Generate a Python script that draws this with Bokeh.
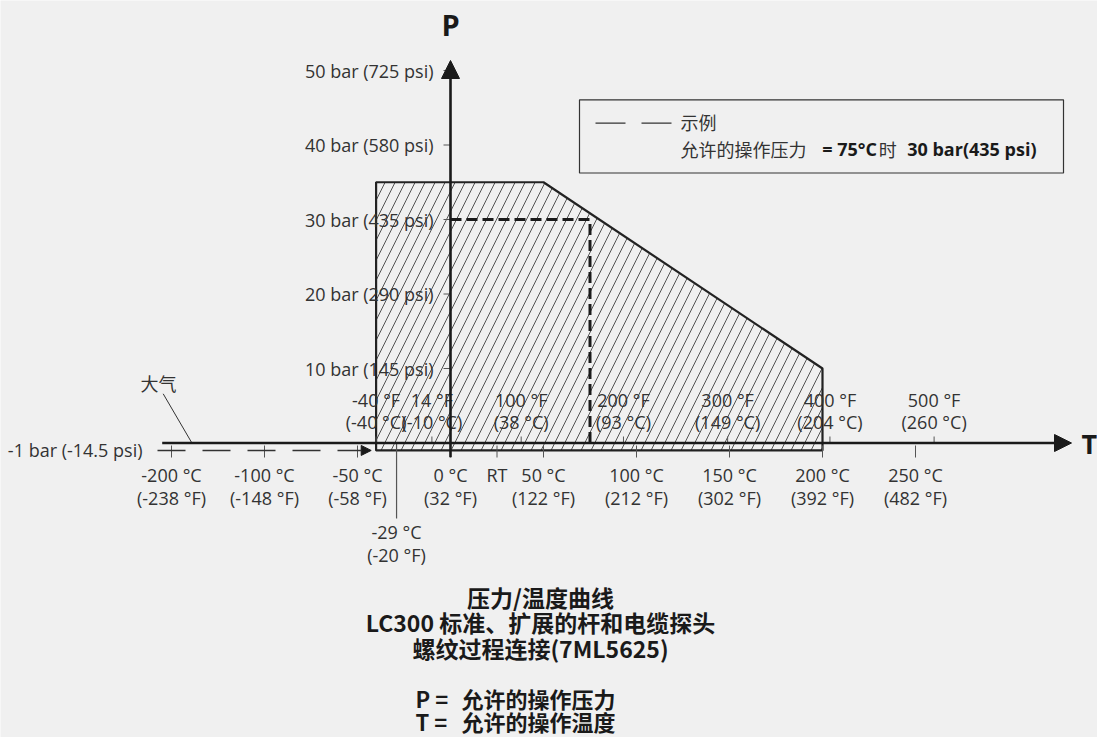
from bokeh.plotting import figure
from bokeh.models import Range1d, Arrow, NormalHead
from bokeh.core.properties import value
from bokeh.embed import file_html
from bokeh.resources import INLINE

# ---------------- data ----------------
envelope_t = [-40, -40, 50, 200, 200]      # permitted operating envelope, °C
envelope_p = [-1, 35, 35, 10, -1]          # bar
example_t = 75                             # example: 75 °C -> 30 bar
example_p = 30

p_ticks = [10, 20, 30, 40, 50]
p_tick_labels = ["10 bar (145 psi)", "20 bar (290 psi)", "30 bar (435 psi)",
                 "40 bar (580 psi)", "50 bar (725 psi)"]

c_ticks = [-200, -100, -50, 0, 50, 100, 150, 200, 250]
c_labels = ["-200 °C", "-100 °C", "-50 °C", "0 °C", "50 °C", "100 °C", "150 °C", "200 °C", "250 °C"]
c_labels_f = ["(-238 °F)", "(-148 °F)", "(-58 °F)", "(32 °F)", "(122 °F)", "(212 °F)",
              "(302 °F)", "(392 °F)", "(482 °F)"]

f_ticks = [-40, -10, 38, 93, 149, 204, 260]          # °C position of the °F ticks
f_labels = ["-40 °F", "14 °F", "100 °F", "200 °F", "300 °F", "400 °F", "500 °F"]
f_labels_c = ["(-40 °C)", "(-10 °C)", "(38 °C)", "(93 °C)", "(149 °C)", "(204 °C)", "(260 °C)"]

rt_t = 25
rt_label = "RT"
min_t = -29
min_t_labels = ["-29 °C", "(-20 °F)"]
atm_p = -1
atm_label = "-1 bar (-14.5 psi)"
atm_text = "大气"

legend_title = "示例"
legend_parts = ["允许的操作压力", "= 75°C", "时", "30 bar(435 psi)"]

title_lines = ["压力/温度曲线", "LC300 标准、扩展的杆和电缆探头", "螺纹过程连接(7ML5625)"]
def_keys = ["P =", "T ="]
def_values = ["允许的操作压力", "允许的操作温度"]


def tpos(t):
    """Axis position of a temperature (axis is broken/compressed below -100 °C)."""
    return t if t >= -100 else -100 + (t + 100) * 0.5


# ---------------- layout ----------------
W, H = 1097, 737
PX_PER_C = 1.86
PX_PER_BAR = 7.45
ORIGIN_X = 450.0     # px of 0 °C
ORIGIN_Y = 442.5     # px of 0 bar


def ix(px):
    return (px - ORIGIN_X) / PX_PER_C


def iy(py):
    return (ORIGIN_Y - py) / PX_PER_BAR


BG = "#f0f0f0"
INK = "#1a1a1a"
TXT = "#333333"
LAT = value("Open Sans")
CJK = value("Noto Sans CJK SC")

p = figure(width=W, height=H, output_backend="svg", toolbar_location=None,
           x_range=Range1d(-ORIGIN_X / PX_PER_C, (W - ORIGIN_X) / PX_PER_C),
           y_range=Range1d(-(H - ORIGIN_Y) / PX_PER_BAR, ORIGIN_Y / PX_PER_BAR),
           x_axis_location=None, y_axis_location=None, min_border=0,
           background_fill_color=BG, border_fill_color=BG, outline_line_color=None)
p.grid.grid_line_color = None

# hatched envelope
p.patch(envelope_t, envelope_p, fill_alpha=0, hatch_pattern="/", hatch_scale=20,
        hatch_weight=0.8, hatch_color="#2a2a2a", line_color="#222222", line_width=2.2)

# ticks
p.segment(x0=[ix(443)] * len(p_ticks), x1=[0] * len(p_ticks), y0=p_ticks, y1=p_ticks,
          line_color="#555555", line_width=1)
cpos = [tpos(t) for t in c_ticks] + [rt_t]
p.segment(x0=cpos, x1=cpos, y0=[iy(445)] * len(cpos), y1=[iy(457)] * len(cpos),
          line_color="#555555", line_width=1)
p.segment(x0=f_ticks, x1=f_ticks, y0=[0] * len(f_ticks), y1=[iy(436)] * len(f_ticks),
          line_color="#555555", line_width=1)

# -29 °C marker line
p.segment(x0=[min_t], x1=[min_t], y0=[iy(443)], y1=[iy(518)], line_color="#555555", line_width=1.2)

# atmosphere leader
p.segment(x0=[ix(162.7)], y0=[iy(393.3)], x1=[ix(191.3)], y1=[iy(442.3)],
          line_color=TXT, line_width=1)

# -1 bar dashed axis with arrow
p.add_layout(Arrow(x_start=ix(157), y_start=atm_p, x_end=ix(370.7), y_end=atm_p,
                   line_color=TXT, line_width=1.5, line_dash="28 17",
                   end=NormalHead(size=10, fill_color=INK, line_color=INK, line_width=1)))
# 0 bar T axis
p.add_layout(Arrow(x_start=ix(161.7), y_start=0, x_end=ix(1071), y_end=0,
                   line_color=INK, line_width=2.6,
                   end=NormalHead(size=17, fill_color=INK, line_color=INK, line_width=1)))
# P axis
p.add_layout(Arrow(x_start=0, y_start=iy(456.7), x_end=0, y_end=iy(60),
                   line_color=INK, line_width=2.6,
                   end=NormalHead(size=18, fill_color=INK, line_color=INK, line_width=1)))

# example dashed line
p.line([0, example_t, example_t], [example_p, example_p, 0], line_dash="11 5",
       line_width=3, line_color=INK)

# legend box
p.quad(left=[ix(579)], right=[ix(1063)], top=[iy(99.3)], bottom=[iy(172.5)],
       fill_alpha=0, line_color="#333333", line_width=1.2)
p.segment(x0=[ix(595), ix(641)], x1=[ix(625), ix(671)], y0=[iy(122.7)] * 2, y1=[iy(122.7)] * 2,
          line_color=TXT, line_width=1.3)

common = dict(text_font_size="18px", text_color=TXT, text_baseline="middle")

# P tick labels
p.text(x=[ix(433)] * len(p_ticks), y=p_ticks, text=p_tick_labels, text_align="right",
       text_font=LAT, **common)
p.text(x=[ix(142)], y=[atm_p], text=[atm_label], text_align="right", text_font=LAT, **common)

# °C labels
cx = [tpos(t) for t in c_ticks]
p.text(x=cx, y=[iy(474.5)] * len(cx), text=c_labels, text_align="center", text_font=LAT, **common)
p.text(x=cx, y=[iy(497.5)] * len(cx), text=c_labels_f, text_align="center", text_font=LAT, **common)
p.text(x=[rt_t], y=[iy(474.5)], text=[rt_label], text_align="center", text_font=LAT, **common)
p.text(x=[min_t, min_t], y=[iy(531.7), iy(554.3)], text=min_t_labels, text_align="center",
       text_font=LAT, **common)

# °F labels
p.text(x=f_ticks, y=[iy(399)] * len(f_ticks), text=f_labels, text_align="center", text_font=LAT, **common)
p.text(x=f_ticks, y=[iy(421.7)] * len(f_ticks), text=f_labels_c, text_align="center", text_font=LAT, **common)

# atmosphere
p.text(x=[ix(158)], y=[iy(382)], text=[atm_text], text_align="center", text_font=CJK, **common)

# axis names
p.text(x=[0], y=[iy(24)], text=["P"], text_align="center", text_baseline="middle",
       text_font=LAT, text_font_size="29px", text_font_style="bold", text_color=INK)
p.text(x=[ix(1081)], y=[0], text=["T"], text_align="left", text_baseline="middle",
       text_font=LAT, text_font_size="27px", text_font_style="bold", text_color=INK)

# legend text
p.text(x=[ix(680)], y=[iy(121.7)], text=[legend_title], text_align="left", text_font=CJK, **common)
ly = iy(148.3)
p.text(x=[ix(680)], y=[ly], text=[legend_parts[0]], text_align="left", text_font=CJK, **common)
p.text(x=[ix(821.7)], y=[ly], text=[legend_parts[1]], text_align="left", text_font=LAT,
       text_font_style="bold", text_font_size="18px", text_color=INK, text_baseline="middle")
p.text(x=[ix(878.3)], y=[ly], text=[legend_parts[2]], text_align="left", text_font=CJK, **common)
p.text(x=[ix(906.7)], y=[ly], text=[legend_parts[3]], text_align="left", text_font=LAT,
       text_font_style="bold", text_font_size="18px", text_color=INK, text_baseline="middle")

# title block
p.text(x=[ix(540)] * 3, y=[iy(596), iy(621), iy(647)], text=title_lines, text_align="center",
       text_baseline="middle", text_font=CJK, text_font_size="23px", text_font_style="bold",
       text_color=INK)
p.text(x=[ix(415)] * 2, y=[iy(697), iy(720)], text=def_keys, text_align="left",
       text_baseline="middle", text_font=CJK, text_font_size="22px", text_font_style="bold",
       text_color=INK)
p.text(x=[ix(461)] * 2, y=[iy(697), iy(720)], text=def_values, text_align="left",
       text_baseline="middle", text_font=CJK, text_font_size="22px", text_font_style="bold",
       text_color=INK)

open("out.html", "w").write(file_html(p, INLINE))
